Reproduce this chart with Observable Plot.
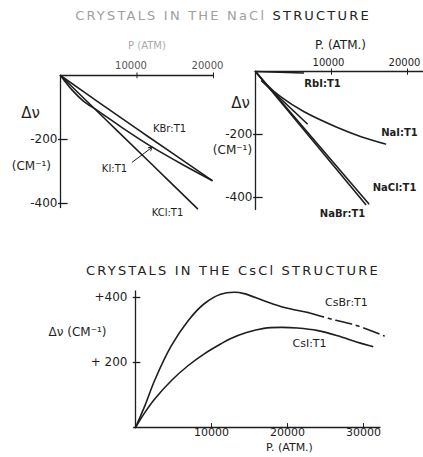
<!DOCTYPE html>
<html><head><meta charset="utf-8">
<script src="https://cdn.jsdelivr.net/npm/d3@7"></script>
<script src="https://cdn.jsdelivr.net/npm/@observablehq/plot@0.6"></script>
<style>
body{margin:0;background:#fff;}
#fig{position:relative;width:423px;height:457px;overflow:hidden;font-family:"DejaVu Sans",sans-serif;color:#222;background:#fff;}
#fig svg{position:absolute;left:0;top:0;}
.title{position:absolute;left:0;white-space:nowrap;text-align:center;font-size:13px;letter-spacing:2.2px;}
</style></head><body><div id="fig"></div>
<script>
// ---------- data: crystals in the NaCl structure (left panel) ----------
const kbrP  = [0, 5000, 10000, 15000, 19800];
const kbrDv = [0, -84, -167, -249, -328];
const kclP  = [0, 6000, 12000, 17900];
const kclDv = [0, -140, -279, -416];
const kiP   = [0, 1500, 3000, 5000, 8000, 12000, 16000, 19800];
const kiDv  = [0, -45, -80, -112, -162, -224, -279, -328];
// ---------- data: NaCl structure (right panel) ----------
const rbiP  = [0, 6300];
const rbiDv = [0, -5];
const naiP  = [0, 1500, 3300, 6400, 10700, 13800, 17100];
const naiDv = [0, -42, -80, -128, -177, -206, -230];
const naclP = [0, 14900];
const naclDv= [0, -420];
const nabrP = [0, 14500];
const nabrDv= [0, -422];
const shortP = [800, 6800];
const shortDv= [-30, -166];
// ---------- data: crystals in the CsCl structure ----------
const csbrP  = [0, 1200, 2500, 4700, 6900, 9000, 11200, 13000, 14300, 16900, 19600, 22700, 25700, 29200, 32700];
const csbrDv = [0, 65, 144, 251, 328, 380, 410, 416, 412, 390, 369, 354, 334, 313, 282];
const csbrDashFrom = 22700;
const csiP   = [0, 1200, 2500, 4700, 6900, 9000, 11200, 12400, 14600, 16900, 19100, 21300, 24000, 26600, 29200, 31200];
const csiDv  = [0, 45, 87, 144, 190, 226, 257, 272, 292, 305, 308, 306, 298, 282, 262, 249];
// ---------- ticks ----------
const xTicksTop = [10000, 20000];
const yTicksTop = [-200, -400];
const yTickLabelsTop = ["-200", "-400"];
const xTicksC = [10000, 20000, 30000];
const yTicksC = [200, 400];
const yTickLabelsC = ["+ 200", "+400"];
// ---------- annotations (data units) ----------
const labelsA = [
  {t: "KBr:T1", p: 14250, dv: -166},
  {t: "KI:T1",  p: 7060,  dv: -291},
  {t: "KCl:T1", p: 13990, dv: -428}
];
const arrowKI = [{p1: 9370, dv1: -271, p2: 11990, dv2: -224}];
const axisTextA = [
  {t: "Δν", p: -3920, dv: -119, fs: 15},
  {t: "(CM⁻¹)", p: -3800, dv: -284, fs: 12}
];
const xTitleA = [{t: "P (ATM)", p: 11300, dv: 92}];
const labelsB = [
  {t: "RbI:T1", p: 8820, dv: -38},
  {t: "NaI:T1", p: 18950, dv: -194},
  {t: "NaCl:T1", p: 18290, dv: -368},
  {t: "NaBr:T1", p: 11450, dv: -451}
];
const axisTextB = [
  {t: "Δν", p: -1970, dv: -102, fs: 15},
  {t: "(CM⁻¹)", p: -3030, dv: -251, fs: 12},
  {t: "P. (ATM.)", p: 11180, dv: 83, fs: 12}
];
const labelsC = [
  {t: "CsBr:T1", p: 27760, dv: 385},
  {t: "CsI:T1", p: 22900, dv: 258}
];
const axisTextC = [
  {t: "Δν (CM⁻¹)", p: -7630, dv: 292, fs: 12},
  {t: "P. (ATM.)", p: 20260, dv: -60, fs: 11}
];

const ink = "#1e1e1e";
const rows = (s, P, D) => P.map((p, i) => ({s, p, dv: D[i]}));
const common = {width: 423, height: 457, style: {background: "transparent", overflow: "visible", fontFamily: "DejaVu Sans, sans-serif", color: ink}};
const lineOpts = {x: "p", y: "dv", z: "s", curve: "catmull-rom", stroke: ink, strokeWidth: 1.6};

// Panel A
const dataA = [...rows("KBr", kbrP, kbrDv), ...rows("KCl", kclP, kclDv), ...rows("KI", kiP, kiDv)];
const A = Plot.plot({
  ...common,
  marginLeft: 60, marginRight: 210, marginTop: 75, marginBottom: 254,
  x: {domain: [0, 20000]}, y: {domain: [-400, 0]},
  marks: [
    Plot.ruleY([0], {x1: 0, x2: 20100, stroke: ink, strokeWidth: 1.3}),
    Plot.ruleX([0], {y1: 0, y2: -416, stroke: ink, strokeWidth: 1.3}),
    Plot.ruleX(xTicksTop, {y1: -10, y2: 8, stroke: ink}),
    Plot.ruleY(yTicksTop, {x1: -250, x2: 1000, stroke: ink, strokeWidth: 1.3}),
    Plot.axisX(xTicksTop, {anchor: "top", label: null, tickSize: 0, tickPadding: 7, dx: -6, fontSize: 10, fill: "#555", tickFormat: d => String(d)}),
    Plot.axisY(yTicksTop, {anchor: "left", label: null, tickSize: 0, tickPadding: 3, fontSize: 12, fill: ink, tickFormat: d => yTickLabelsTop[yTicksTop.indexOf(d)]}),
    Plot.line(dataA, lineOpts),
    Plot.arrow(arrowKI, {x1: "p1", y1: "dv1", x2: "p2", y2: "dv2", stroke: ink, strokeWidth: 1, headLength: 6}),
    Plot.text(labelsA, {x: "p", y: "dv", text: "t", fontSize: 10, fill: ink}),
    Plot.text(axisTextA, {x: "p", y: "dv", text: "t", fontSize: "fs", fill: ink}),
    Plot.text(xTitleA, {x: "p", y: "dv", text: "t", fontSize: 10, fill: "#aaa"})
  ]
});

// Panel B
const dataB = [...rows("RbI", rbiP, rbiDv), ...rows("NaI", naiP, naiDv), ...rows("NaCl", naclP, naclDv), ...rows("NaBr", nabrP, nabrDv), ...rows("extra", shortP, shortDv)];
const B = Plot.plot({
  ...common,
  marginLeft: 255, marginRight: 16, marginTop: 71, marginBottom: 260,
  x: {domain: [0, 20000]}, y: {domain: [-400, 0]},
  marks: [
    Plot.ruleY([0], {x1: 0, x2: 23000, stroke: ink, strokeWidth: 1.3}),
    Plot.ruleX([0], {y1: 0, y2: -441, stroke: ink, strokeWidth: 1.3}),
    Plot.ruleX(xTicksTop, {y1: -12, y2: 8, stroke: ink}),
    Plot.ruleY(yTicksTop, {x1: -250, x2: 1000, stroke: ink, strokeWidth: 1.3}),
    Plot.axisX(xTicksTop, {anchor: "top", label: null, tickSize: 0, tickPadding: 6, dx: -3, fontSize: 10, fill: ink, tickFormat: d => String(d)}),
    Plot.axisY(yTicksTop, {anchor: "left", label: null, tickSize: 0, tickPadding: 3, fontSize: 12, fill: ink, tickFormat: d => yTickLabelsTop[yTicksTop.indexOf(d)]}),
    Plot.line(dataB, lineOpts),
    Plot.text(labelsB, {x: "p", y: "dv", text: "t", fontSize: 10, fontWeight: "bold", fill: ink}),
    Plot.text(axisTextB, {x: "p", y: "dv", text: "t", fontSize: "fs", fill: ink})
  ]
});

// Panel C
const csbr = rows("CsBr", csbrP, csbrDv);
const csi = rows("CsI", csiP, csiDv);
const C = Plot.plot({
  ...common,
  marginLeft: 135, marginRight: 60, marginTop: 297, marginBottom: 30,
  x: {domain: [0, 30000]}, y: {domain: [0, 400]},
  marks: [
    Plot.ruleY([0], {x1: -250, x2: 32300, stroke: ink, strokeWidth: 1.3}),
    Plot.ruleX([0], {y1: 0, y2: 420, stroke: ink, strokeWidth: 1.3}),
    Plot.ruleX(xTicksC, {y1: 0, y2: 12, stroke: ink}),
    Plot.ruleY(yTicksC, {x1: -300, x2: 700, stroke: ink, strokeWidth: 1.3}),
    Plot.axisX(xTicksC, {anchor: "bottom", label: null, tickSize: 0, tickPadding: 1, fontSize: 11, fill: ink, tickFormat: d => String(d)}),
    Plot.axisY(yTicksC, {anchor: "left", label: null, tickSize: 0, tickPadding: 8, fontSize: 12, fill: ink, tickFormat: d => yTickLabelsC[yTicksC.indexOf(d)]}),
    Plot.line(csbr.filter(d => d.p <= csbrDashFrom), lineOpts),
    Plot.line(csbr.filter(d => d.p >= csbrDashFrom), {...lineOpts, strokeDasharray: "16,5,3,5"}),
    Plot.line(csi, lineOpts),
    Plot.text(labelsC, {x: "p", y: "dv", text: "t", fontSize: 11, fill: ink}),
    Plot.text(axisTextC, {x: "p", y: "dv", text: "t", fontSize: "fs", fill: ink})
  ]
});

const fig = document.getElementById("fig");
fig.append(A, B, C);
const t1 = document.createElement("div");
t1.className = "title";
t1.style.top = "8px"; t1.style.width = "446px";
t1.innerHTML = '<span style="color:#a0a0a0">CRYSTALS IN THE NaCl</span> STRUCTURE';
const t2 = document.createElement("div");
t2.className = "title";
t2.style.top = "263px"; t2.style.width = "466px";
t2.textContent = "CRYSTALS IN THE CsCl STRUCTURE";
fig.append(t1, t2);
</script></body></html>
